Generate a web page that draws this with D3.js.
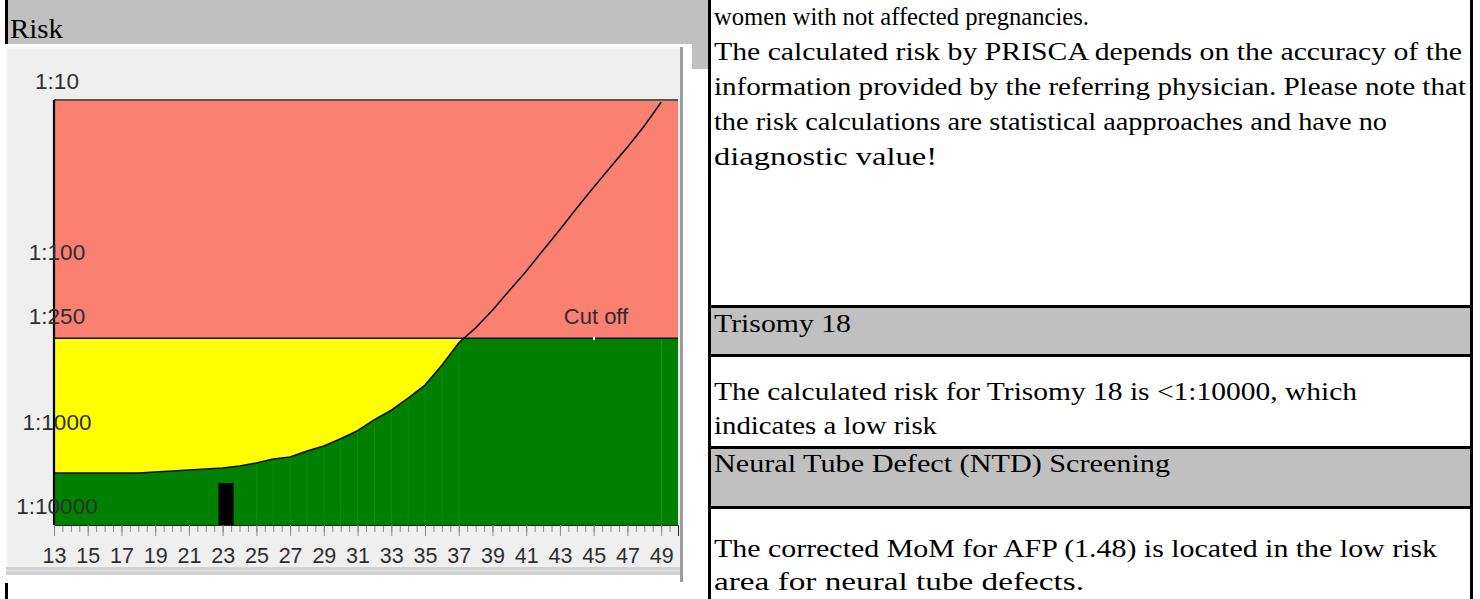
<!DOCTYPE html>
<html><head><meta charset="utf-8">
<script src="https://cdn.jsdelivr.net/npm/d3@7"></script>
<style>html,body{margin:0;padding:0;background:#fff;overflow:hidden}</style>
</head><body><svg id="c" width="1480" height="599"></svg>
<script>
// ---------- data ----------
const weeks = [13,14,15,16,17,18,19,20,21,22,23,24,25,26,27,28,29,30,31,32,33,34,35,36,37,38,39,40,41,42,43,44,45,46,47,48,49];
const riskCurve = [2400,2400,2400,2400,2400,2400,2340,2280,2210,2150,2100,1980,1830,1640,1550,1320,1150,970,870,750,660,560,470,360,266,217,171,131,101,76,57.5,43,32.5,24.7,18.9,14.2,10.3];
const yTickValues = [10,100,250,1000,10000];
const xTickValues = [13,15,17,19,21,23,25,27,29,31,33,35,37,39,41,43,45,47,49];
const cutoffRisk = 250;
const cutoffLabel = "Cut off";
const patientWeek = [23.2];
const patientRisk = [3160];
const headerTitle = "Risk";
const infoLines = [
  "women with not affected pregnancies.",
  "The calculated risk by PRISCA depends on the accuracy of the",
  "information provided by the referring physician. Please note that",
  "the risk calculations are statistical aapproaches and have no",
  "diagnostic value!"
];
const t18Title = "Trisomy 18";
const t18Lines = ["The calculated risk for Trisomy 18 is <1:10000, which", "indicates a low risk"];
const ntdTitle = "Neural Tube Defect (NTD) Screening";
const ntdLines = ["The corrected MoM for AFP (1.48) is located in the low risk", "area for neural tube defects."];

// ---------- layout (pixel widths of the text lines, as in the reference) ----------
const infoWidths = [375, 748, 752, 673, 223];
const t18TitleWidth = 137;
const t18Widths = [643, 223];
const ntdTitleWidth = 456;
const ntdWidths = [723, 370];

const svg = d3.select("#c");
svg.append("rect").attr("width",1480).attr("height",599).attr("fill","#fff");
const serif = "'Liberation Serif','Times New Roman',serif";
const sans = "'Liberation Sans',Arial,Helvetica,sans-serif";

// left header
svg.append("rect").attr("x",8).attr("y",0).attr("width",700).attr("height",69).attr("fill","#c0c0c0");
svg.append("rect").attr("x",5).attr("y",0).attr("width",3).attr("height",599).attr("fill","#000");

// chart image block
svg.append("rect").attr("x",5).attr("y",44).attr("width",687).attr("height",539).attr("fill","#fff");
svg.append("rect").attr("x",6).attr("y",47).attr("width",677).attr("height",528).attr("fill","#f6f6f6");
svg.append("rect").attr("x",8).attr("y",49).attr("width",672).attr("height",518).attr("fill","#efefef");
svg.append("rect").attr("x",6).attr("y",567).attr("width",674).attr("height",8).attr("fill","#d2d2d2");
svg.append("rect").attr("x",6).attr("y",570).attr("width",674).attr("height",1).attr("fill","#e6e6e6");
svg.append("rect").attr("x",680).attr("y",47).attr("width",3).attr("height",535).attr("fill","#9c9c9c");

svg.append("text").attr("x",10).attr("y",38).attr("font-family",serif).attr("font-size",28)
  .attr("textLength",53).attr("lengthAdjust","spacingAndGlyphs")
  .attr("fill","#000").text(headerTitle);

// plot
const L = 54, R = 678, T = 100, B = 525;
const x = d3.scaleLinear().domain([13,50]).range([L,R]);
const y = d3.scaleLog().domain([10,1000,10000]).range([T,441,B]);
const data = weeks.map((w,i)=>({w, r:riskCurve[i]}));

const defs = svg.append("defs");
defs.append("clipPath").attr("id","plotClip").append("rect")
  .attr("x",L).attr("y",T).attr("width",R-L).attr("height",B-T);
defs.append("clipPath").attr("id","belowCut").append("rect")
  .attr("x",L).attr("y",y(cutoffRisk)).attr("width",R-L).attr("height",B-y(cutoffRisk));

const g = svg.append("g");
g.append("rect").attr("x",L).attr("y",y(10)).attr("width",R-L).attr("height",y(cutoffRisk)-y(10)).attr("fill","#fa8072");
g.append("rect").attr("x",L).attr("y",y(cutoffRisk)).attr("width",R-L).attr("height",y(10000)-y(cutoffRisk)).attr("fill","#ffff00");

const curveType = d3.curveLinear;
const area = d3.area().x(d=>x(d.w)).y0(y(10000)).y1(d=>y(d.r)).curve(curveType);
const greenG = g.append("g").attr("clip-path","url(#belowCut)");
greenG.append("path").datum(data).attr("d",area).attr("fill","#008000");
greenG.append("rect").attr("x",x(weeks[weeks.length-1])).attr("y",y(cutoffRisk))
  .attr("width",R-x(weeks[weeks.length-1])).attr("height",B-y(cutoffRisk)).attr("fill","#008000");
// faint vertical streaks at data points
greenG.selectAll("line.streak").data(data.filter(d=>d.w>=25 && d.w<=37)).join("line")
  .attr("x1",d=>x(d.w)).attr("x2",d=>x(d.w)).attr("y1",d=>y(d.r)).attr("y2",B)
  .attr("stroke","#2f9a2a").attr("stroke-width",1).attr("opacity",0.35);

// patient bar
g.selectAll("rect.pat").data(patientWeek).join("rect")
  .attr("x",(d)=>x(d-0.45)).attr("width",(d)=>x(d+0.45)-x(d-0.45))
  .attr("y",(d,i)=>y(patientRisk[i])).attr("height",(d,i)=>B-y(patientRisk[i])).attr("fill","#000");

// top border
g.append("line").attr("x1",L).attr("x2",R).attr("y1",T).attr("y2",T).attr("stroke","#555").attr("stroke-width",2);
// cutoff line
g.append("line").attr("x1",L).attr("x2",R).attr("y1",y(cutoffRisk)).attr("y2",y(cutoffRisk)).attr("stroke","#111").attr("stroke-width",1.5);
g.append("rect").attr("x",R-85).attr("y",y(cutoffRisk)-1.5).attr("width",2).attr("height",3).attr("fill","#fff");

// curve
g.append("path").datum(data).attr("clip-path","url(#plotClip)")
  .attr("d",d3.line().x(d=>x(d.w)).y(d=>y(d.r)).curve(curveType))
  .attr("fill","none").attr("stroke","#111").attr("stroke-width",1.6).attr("stroke-linejoin","round");

// cut off label
g.append("text").attr("x",R-82).attr("y",y(cutoffRisk)-22).attr("dy","0.35em")
  .attr("text-anchor","middle").attr("font-family",sans).attr("font-size",22).attr("fill","#2e2e2e").text(cutoffLabel);

// x axis minor ticks
const minor = d3.range(13,50.01,0.5);
const xMinor = svg.append("g").attr("transform",`translate(0,${B})`)
  .call(d3.axisBottom(x).tickValues(minor).tickSize(7).tickFormat(""));
xMinor.select(".domain").remove();
xMinor.selectAll(".tick line").attr("stroke","#8a8a8a");
const xAx = svg.append("g").attr("transform",`translate(0,${B})`)
  .call(d3.axisBottom(x).tickValues(xTickValues).tickSize(11).tickFormat(d=>d));
xAx.select(".domain").attr("stroke","#222").attr("stroke-width",1);
xAx.selectAll(".tick line").attr("stroke","#8a8a8a");
xAx.selectAll(".tick text").attr("font-family",sans).attr("font-size",21.5).attr("fill","#2e2e2e").attr("y",23);

// y axis
const yAx = svg.append("g").attr("transform",`translate(${L},0)`)
  .call(d3.axisLeft(y).tickValues(yTickValues).tickSize(0).tickFormat(d=>"1:"+d));
yAx.select(".domain").attr("stroke","#000").attr("stroke-width",2.2).attr("d",`M0,${T}V${B}`);
yAx.selectAll(".tick text").attr("font-family",sans).attr("font-size",22.5).attr("fill","#2e2e2e")
  .attr("text-anchor","middle").attr("x",3).attr("dy","0.35em")
  .attr("y",d=>d===cutoffRisk?-23:-19);

// ---------- right panel ----------
const P0 = 708, P1 = 1473;
svg.append("rect").attr("x",P0).attr("y",308).attr("width",P1-P0).attr("height",46).attr("fill","#c0c0c0");
svg.append("rect").attr("x",P0).attr("y",449).attr("width",P1-P0).attr("height",57).attr("fill","#c0c0c0");
[305,354,446,506].forEach(yy=>svg.append("rect").attr("x",P0).attr("y",yy).attr("width",P1-P0).attr("height",3).attr("fill","#000"));
svg.append("rect").attr("x",P0).attr("y",0).attr("width",3).attr("height",599).attr("fill","#000");
svg.append("rect").attr("x",1470).attr("y",0).attr("width",3).attr("height",599).attr("fill","#000");

const tg = svg.append("g").attr("font-family",serif).attr("font-size",26).attr("fill","#000");
const blocks = [
  {lines:infoLines, widths:infoWidths, y0:25, step:35},
  {lines:[t18Title], widths:[t18TitleWidth], y0:332, step:34},
  {lines:t18Lines, widths:t18Widths, y0:400, step:34},
  {lines:[ntdTitle], widths:[ntdTitleWidth], y0:472, step:34},
  {lines:ntdLines, widths:ntdWidths, y0:557, step:33}
];
blocks.forEach(b=>b.lines.forEach((s,i)=>{
  tg.append("text").attr("x",714).attr("y",b.y0+i*b.step)
    .attr("textLength",b.widths[i]).attr("lengthAdjust","spacingAndGlyphs").text(s);
}));
</script></body></html>
